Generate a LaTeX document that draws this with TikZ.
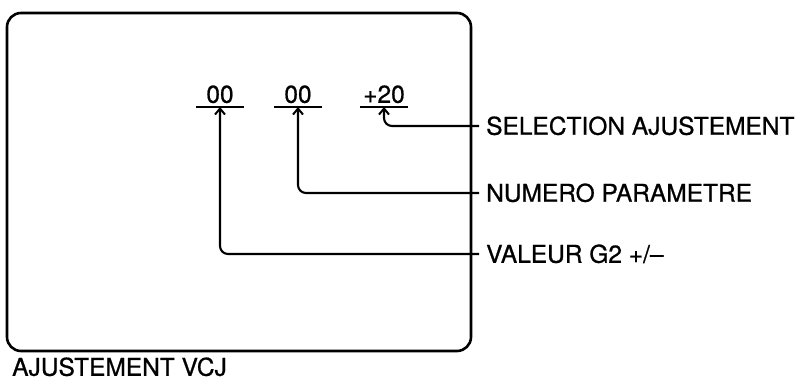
\documentclass[tikz,border=0pt]{standalone}
\usepackage{fontspec}
\setmainfont{TeX Gyre Heros}[FakeBold=0.8]
\usetikzlibrary{arrows.meta,positioning}

\tikzset{
  screen/.style={line width=2.6pt, rounded corners=14pt},
  digits/.style={font=\fontsize{24.5}{24}\selectfont, minimum width=47pt, inner xsep=0pt, inner ysep=4pt, text height=17pt, text depth=0pt},
  uline/.style={line width=2.2pt},
  lbl/.style={font=\fontsize{24.5}{24}\selectfont, anchor=west, inner xsep=7pt, inner ysep=0pt, text height=17.5pt, text depth=0pt},
  conn/.style={line width=2.1pt, rounded corners=8pt, -{Straight Barb[length=6pt,width=10pt,line width=2pt]}}
}

\begin{document}
\begin{tikzpicture}[x=1pt, y=-1pt]
\useasboundingbox (0,0) rectangle (800,387);

% screen
\draw[screen] (7,13) rectangle (471,351);

% values on the screen
\node[digits, anchor=south] (num1) at (220,107) {00};
\node[digits, anchor=south] (num2) at (298,107) {00};
\node[digits, anchor=south] (num3) at (384,107) {+20};
\foreach \n in {num1,num2,num3}
  \draw[uline] (\n.south west) -- (\n.south east);

% labels
\node[lbl] (sel) at (479,126) {SELECTION AJUSTEMENT};
\node[lbl] (par) at (479,193) {NUMERO PARAMETRE};
\node[lbl] (val) at (479,254) {VALEUR G2 +/--};
\node[lbl, inner xsep=0pt] (title) at (12,367) {AJUSTEMENT VCJ};

% connectors
\draw[conn] (sel.west) -| (num3.south);
\draw[conn] (par.west) -| (num2.south);
\draw[conn] (val.west) -| (num1.south);

\end{tikzpicture}
\end{document}
